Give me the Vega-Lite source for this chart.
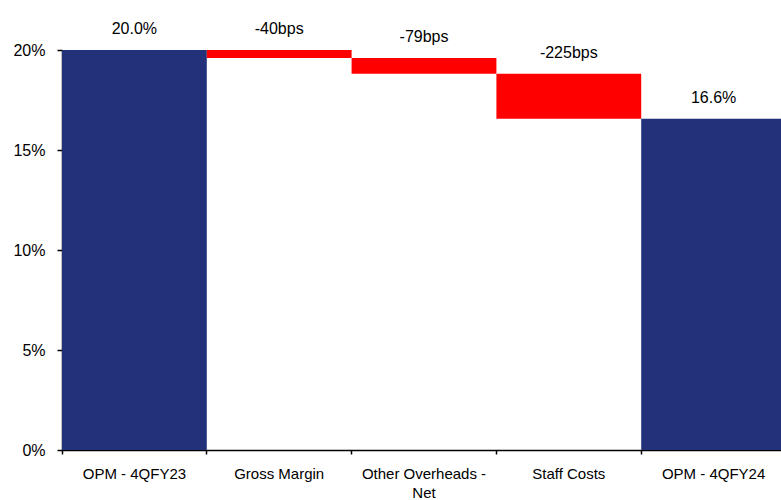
{
  "$schema": "https://vega.github.io/schema/vega-lite/v6.json",
  "width": 724,
  "height": 400,
  "autosize": "none",
  "padding": {"left": 62, "top": 50, "right": -5, "bottom": 50},
  "background": "white",
  "config": {
    "view": {"stroke": null},
    "font": "Liberation Sans"
  },
  "data": {
    "values": [
      {"category": "OPM - 4QFY23", "high": 20.0, "low": 0, "label": "20.0%", "kind": "total"},
      {"category": "Gross Margin", "high": 20.0, "low": 19.6, "label": "-40bps", "kind": "change"},
      {"category": "Other Overheads - Net", "high": 19.6, "low": 18.81, "label": "-79bps", "kind": "change"},
      {"category": "Staff Costs", "high": 18.81, "low": 16.56, "label": "-225bps", "kind": "change"},
      {"category": "OPM - 4QFY24", "high": 16.56, "low": 0, "label": "16.6%", "kind": "total"}
    ]
  },
  "encoding": {
    "x": {
      "field": "category",
      "type": "nominal",
      "sort": null,
      "scale": {"paddingInner": 0, "paddingOuter": 0},
      "axis": {
        "title": null,
        "labelAngle": 0,
        "bandPosition": 0,
        "tickSize": 4,
        "tickColor": "black",
        "domainColor": "black",
        "domainWidth": 1.5,
        "tickWidth": 1.5,
        "labelColor": "black",
        "labelFontSize": 15,
        "labelPadding": 12,
        "labelLineHeight": 19,
        "labelBaseline": "top",
        "labelExpr": "datum.value == 'Other Overheads - Net' ? ['Other Overheads -', 'Net'] : datum.value"
      }
    }
  },
  "layer": [
    {
      "mark": {"type": "bar"},
      "encoding": {
        "y": {
          "field": "high",
          "type": "quantitative",
          "scale": {"domain": [0, 20], "nice": false},
          "axis": {
            "title": null,
            "values": [0, 5, 10, 15, 20],
            "labelExpr": "datum.value + '%'",
            "grid": false,
            "tickSize": 5,
            "tickColor": "black",
            "tickWidth": 1.5,
            "domainColor": "black",
            "domainWidth": 1.5,
            "labelColor": "black",
            "labelFontSize": 16,
            "labelPadding": 12
          }
        },
        "y2": {"field": "low"},
        "color": {
          "field": "kind",
          "type": "nominal",
          "scale": {"domain": ["total", "change"], "range": ["#22317A", "#FF0000"]},
          "legend": null
        }
      }
    },
    {
      "mark": {"type": "text", "baseline": "bottom", "dy": -13, "fontSize": 16, "color": "black"},
      "encoding": {
        "y": {"field": "high", "type": "quantitative"},
        "text": {"field": "label"}
      }
    }
  ]
}
